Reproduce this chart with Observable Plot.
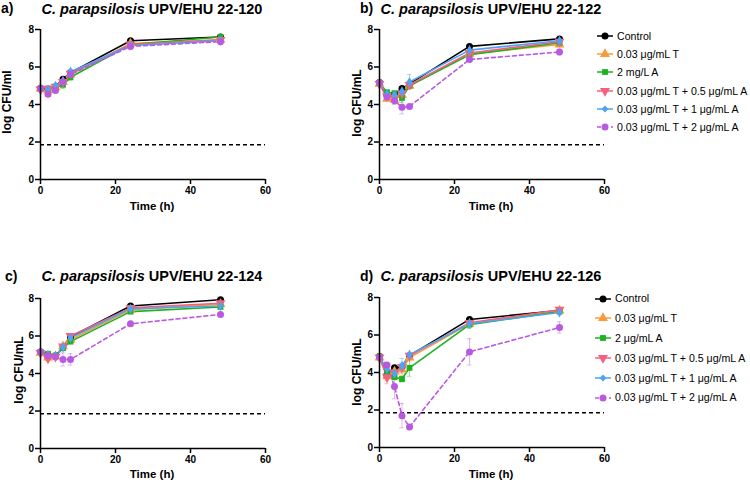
<!DOCTYPE html>
<html><head><meta charset="utf-8">
<script src="https://cdn.jsdelivr.net/npm/d3@7"></script>
<script src="https://cdn.jsdelivr.net/npm/@observablehq/plot@0.6"></script>
<style>
body{margin:0;background:#fff;font-family:"Liberation Sans",Arial,Helvetica,sans-serif;color:#000;}
#root{position:relative;width:750px;height:482px;overflow:hidden;background:#fff;}
.abs{position:absolute;white-space:nowrap;line-height:1.15;}
.ctr{transform:translate(-50%,-50%);}
.title{font-weight:bold;font-size:14.5px;}
.letter{font-weight:bold;font-size:14px;}
.xl{font-weight:bold;font-size:11.5px;}
.yl{font-weight:bold;font-size:12px;transform:translate(-50%,-50%) rotate(-90deg);}
.leg{font-size:10.6px;display:flex;align-items:center;}
</style></head>
<body><div id="root"></div>
<script>
// ---- data ----
const times = [0, 2, 4, 6, 8, 24, 48];
const seriesB = ["Control", "0.03 μg/mL T", "2 mg/L A", "0.03 μg/mL T + 0.5 μg/mL A", "0.03 μg/mL T + 1 μg/mL A", "0.03 μg/mL T + 2 μg/mL A"];
const seriesD = ["Control", "0.03 μg/mL T", "2 μg/mL A", "0.03 μg/mL T + 0.5 μg/mL A", "0.03 μg/mL T + 1 μg/mL A", "0.03 μg/mL T + 2 μg/mL A"];
const strains = ["UPV/EHU 22-120", "UPV/EHU 22-122", "UPV/EHU 22-124", "UPV/EHU 22-126"];
const letters = ["a)", "b)", "c)", "d)"];
const yLabels = ["log CFU/ml", "log CFU/mL", "log CFU/mL", "log CFU/mL"];
const xLabel = "Time (h)";
const xTicks = [0, 20, 40, 60];
const yTicks = [0, 2, 4, 6, 8];
const detectionLimit = 1.85;

const valsA = [
  [4.85, 4.80, 4.95, 5.35, 5.70, 7.40, 7.60],
  [4.85, 4.75, 4.90, 5.20, 5.60, 7.25, 7.45],
  [4.85, 4.85, 4.90, 5.05, 5.45, 7.20, 7.60],
  [4.80, 4.85, 4.95, 5.20, 5.65, 7.20, 7.45],
  [4.85, 4.80, 5.00, 5.25, 5.75, 7.15, 7.40],
  [4.85, 4.55, 4.75, 5.20, 5.60, 7.10, 7.35]];
const errA = [
  [0.05, 0.05, 0.05, 0.05, 0.05, 0.05, 0.05],
  [0.05, 0.10, 0.05, 0.10, 0.10, 0.05, 0.05],
  [0.05, 0.05, 0.05, 0.20, 0.15, 0.05, 0.05],
  [0.05, 0.05, 0.05, 0.10, 0.05, 0.05, 0.05],
  [0.05, 0.05, 0.05, 0.05, 0.05, 0.05, 0.05],
  [0.05, 0.10, 0.10, 0.05, 0.05, 0.05, 0.05]];
const valsB = [
  [5.18, 4.50, 4.55, 4.85, 5.10, 7.10, 7.50],
  [5.10, 4.30, 4.25, 4.50, 5.00, 6.70, 7.20],
  [5.15, 4.65, 4.60, 4.35, 5.00, 6.65, 7.30],
  [5.10, 4.45, 4.35, 4.60, 5.05, 6.75, 7.35],
  [5.15, 4.55, 4.50, 4.70, 5.20, 6.90, 7.40],
  [5.15, 4.40, 4.20, 3.85, 3.90, 6.40, 6.80]];
const errB = [
  [0.05, 0.05, 0.05, 0.05, 0.05, 0.05, 0.05],
  [0.10, 0.10, 0.10, 0.10, 0.10, 0.10, 0.05],
  [0.10, 0.10, 0.10, 0.25, 0.15, 0.10, 0.05],
  [0.05, 0.10, 0.10, 0.10, 0.10, 0.05, 0.05],
  [0.05, 0.05, 0.05, 0.15, 0.40, 0.05, 0.05],
  [0.05, 0.10, 0.20, 0.35, 0.05, 0.10, 0.15]];
const valsC = [
  [5.15, 5.00, 4.95, 5.40, 5.95, 7.60, 7.93],
  [5.10, 4.85, 4.90, 5.45, 5.80, 7.40, 7.70],
  [5.15, 5.05, 4.95, 5.35, 5.70, 7.30, 7.55],
  [5.10, 4.80, 4.90, 5.45, 6.00, 7.50, 7.75],
  [5.15, 5.00, 4.95, 5.40, 5.90, 7.45, 7.60],
  [5.15, 4.95, 4.90, 4.75, 4.75, 6.65, 7.15]];
const errC = [
  [0.05, 0.05, 0.05, 0.05, 0.05, 0.05, 0.05],
  [0.05, 0.10, 0.10, 0.10, 0.10, 0.05, 0.05],
  [0.05, 0.05, 0.05, 0.05, 0.10, 0.05, 0.05],
  [0.05, 0.10, 0.05, 0.05, 0.05, 0.05, 0.05],
  [0.05, 0.05, 0.05, 0.05, 0.05, 0.05, 0.05],
  [0.05, 0.10, 0.10, 0.35, 0.30, 0.05, 0.05]];
const valsD = [
  [4.85, 3.90, 4.25, 4.30, 4.90, 6.83, 7.30],
  [4.80, 3.80, 4.05, 4.15, 4.80, 6.60, 7.30],
  [4.85, 4.00, 3.75, 3.65, 4.25, 6.55, 7.25],
  [4.80, 3.75, 4.00, 4.30, 4.90, 6.65, 7.35],
  [4.80, 4.20, 3.95, 4.35, 4.95, 6.60, 7.20],
  [4.80, 4.40, 3.25, 1.70, 1.10, 5.10, 6.40]];
const errD = [
  [0.05, 0.10, 0.05, 0.10, 0.10, 0.05, 0.05],
  [0.05, 0.25, 0.10, 0.30, 0.20, 0.10, 0.05],
  [0.05, 0.10, 0.10, 0.15, 0.45, 0.20, 0.05],
  [0.05, 0.35, 0.10, 0.20, 0.10, 0.05, 0.05],
  [0.05, 0.10, 0.10, 0.40, 0.10, 0.05, 0.05],
  [0.05, 0.10, 0.65, 0.65, 0.10, 0.70, 0.30]];

// ---- styles ----
const colors = ["#000000", "#FA9A3C", "#1DB31D", "#F4607E", "#4EA3F5", "#B85AE0"];
const triangleDown = {
  draw(ctx, size) {
    const y = -Math.sqrt(size / (Math.sqrt(3) * 3));
    ctx.moveTo(0, -y * 2);
    ctx.lineTo(-Math.sqrt(3) * y, y);
    ctx.lineTo(Math.sqrt(3) * y, y);
    ctx.closePath();
  }
};
const symbols = ["circle", "triangle", "square", triangleDown, "diamond", "circle"];
const d3symbols = [d3.symbolCircle, d3.symbolTriangle, d3.symbolSquare, triangleDown, d3.symbolDiamond2, d3.symbolCircle];
const radii = [3.5, 3.7, 3.3, 3.7, 3.1, 3.5];
const dashes = [null, null, null, null, null, "4,3"];

const root = document.getElementById("root");
const FONT = '"Liberation Sans", Arial, Helvetica, sans-serif';

function panel(vals, errs, left, top) {
  const rows = [];
  vals.forEach((row, i) => row.forEach((v, j) => rows.push({s: i, t: times[j], v, e: errs[i][j]})));
  const marks = [
    Plot.ruleY([detectionLimit], {stroke: "#000", strokeWidth: 1.4, strokeDasharray: "4,3"})
  ];
  colors.forEach((c, i) => {
    const r = rows.filter(d => d.s === i);
    marks.push(Plot.ruleX(r, {x: "t", y1: d => d.v - d.e, y2: d => d.v + d.e, stroke: c, strokeOpacity: 0.45, strokeWidth: 1}));
    marks.push(Plot.ruleY(r, {y: d => d.v + d.e, x1: d => d.t - 0.6, x2: d => d.t + 0.6, stroke: c, strokeOpacity: 0.45, strokeWidth: 1}));
    marks.push(Plot.ruleY(r, {y: d => d.v - d.e, x1: d => d.t - 0.6, x2: d => d.t + 0.6, stroke: c, strokeOpacity: 0.45, strokeWidth: 1}));
  });
  colors.forEach((c, i) => {
    const r = rows.filter(d => d.s === i);
    marks.push(Plot.line(r, {x: "t", y: "v", stroke: c, strokeWidth: 1.6, strokeDasharray: dashes[i] || undefined}));
  });
  colors.forEach((c, i) => {
    const r = rows.filter(d => d.s === i);
    marks.push(Plot.dot(r, {x: "t", y: "v", fill: c, stroke: "none", r: radii[i], symbol: symbols[i]}));
  });
  marks.push(Plot.ruleX([0], {stroke: "#000", strokeWidth: 1.5}));
  marks.push(Plot.ruleY([0], {stroke: "#000", strokeWidth: 1.5}));
  marks.push(Plot.axisX({ticks: xTicks, tickSize: 5, tickPadding: 2, strokeWidth: 1.5, label: null, tickFormat: d => String(d)}));
  marks.push(Plot.axisY({ticks: yTicks, tickSize: 5, tickPadding: 1.5, strokeWidth: 1.5, label: null, tickFormat: d => String(d)}));
  const svg = Plot.plot({
    width: 275, height: 200,
    marginLeft: 40, marginRight: 10, marginTop: 29, marginBottom: 21,
    x: {domain: [0, 60]},
    y: {domain: [0, 8]},
    style: {fontFamily: FONT, fontSize: "10px", fontWeight: "bold", color: "#000", background: "transparent", overflow: "visible"},
    marks
  });
  svg.style.position = "absolute";
  svg.style.left = left + "px";
  svg.style.top = top + "px";
  root.appendChild(svg);
}

function text(html, cls, x, y, center = true) {
  const d = document.createElement("div");
  d.className = "abs " + cls + (center && cls !== "yl" ? " ctr" : "");
  d.innerHTML = html;
  d.style.left = x + "px";
  d.style.top = y + "px";
  root.appendChild(d);
}

function legend(names, markerX, textX, y0, step) {
  names.forEach((n, i) => {
    const row = document.createElement("div");
    row.className = "abs leg";
    row.style.left = (markerX - 9) + "px";
    row.style.top = (y0 + i * step - 7) + "px";
    row.style.height = "14px";
    const s = d3.create("svg").attr("width", 18).attr("height", 14);
    s.append("line").attr("x1", 1).attr("x2", 17).attr("y1", 7).attr("y2", 7)
      .attr("stroke", colors[i]).attr("stroke-width", 1.5)
      .attr("stroke-dasharray", dashes[i]);
    s.append("path").attr("transform", "translate(9,7)")
      .attr("d", d3.symbol(d3symbols[i], Math.PI * radii[i] * radii[i]))
      .attr("fill", colors[i]);
    s.style("margin-right", (textX - markerX - 9) + "px");
    row.appendChild(s.node());
    const sp = document.createElement("span");
    sp.textContent = n;
    row.appendChild(sp);
    root.appendChild(row);
  });
}

panel(valsA, errA, 0, 0);
panel(valsB, errB, 339, 0);
panel(valsC, errC, 0, 269);
panel(valsD, errD, 339, 268);

const centersX = [152, 491, 152, 491];
const titleY = [9, 9, 276, 276];
const letterX = [1, 360, 5, 360];
const letterTop = [0, 0, 268, 268];
const ylX = [8, 358, 20, 358];
const ylY = [102, 103, 370, 372];
const xlY = [207, 207, 475, 475];
for (let k = 0; k < 4; k++) {
  text("<i>C. parapsilosis</i> " + strains[k], "title", centersX[k], titleY[k]);
  text(letters[k], "letter", letterX[k], letterTop[k], false);
  text(yLabels[k], "yl", ylX[k], ylY[k]);
  text(xLabel, "xl", centersX[k], xlY[k]);
}
legend(seriesB, 605, 617, 36, 18.2);
legend(seriesD, 603, 615, 298.5, 19.8);
</script></body></html>
